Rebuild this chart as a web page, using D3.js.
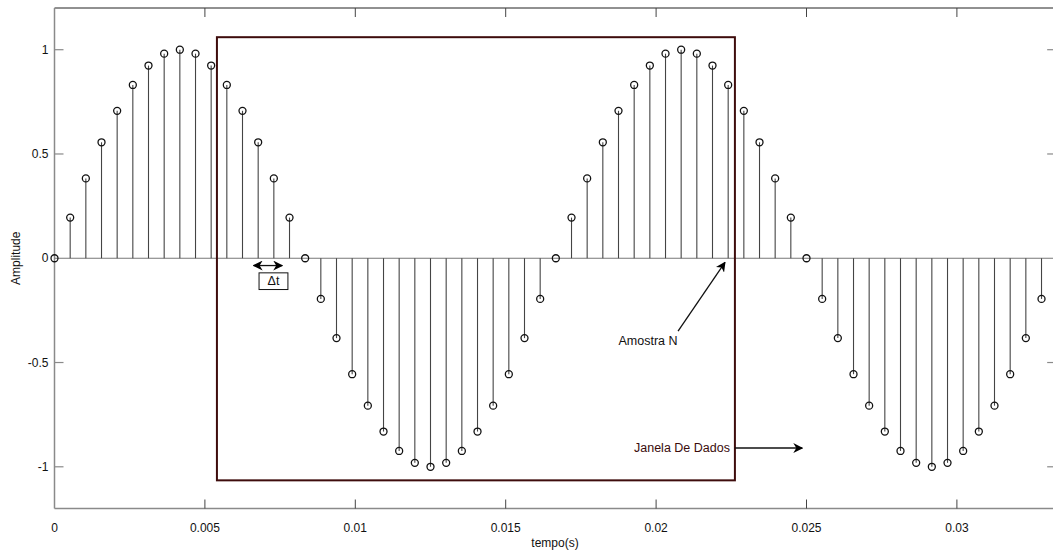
<!DOCTYPE html>
<html>
<head>
<meta charset="utf-8">
<script src="https://cdn.jsdelivr.net/npm/d3@7"></script>
<style>
  html, body { margin: 0; padding: 0; background: #fff; }
  svg text { font-family: "Liberation Sans", Arial, Helvetica, sans-serif; font-size: 12px; fill: #111; }
</style>
</head>
<body>
<svg id="chart"></svg>
<script>
// amostras (tempo em s) e amplitudes
const sampleTimes = [
  0, 0.000521, 0.001042, 0.001563, 0.002083, 0.002604, 0.003125, 0.003646,
  0.004167, 0.004688, 0.005208, 0.005729, 0.00625, 0.006771, 0.007292, 0.007813,
  0.008333, 0.008854, 0.009375, 0.009896, 0.010417, 0.010938, 0.011458, 0.011979,
  0.0125, 0.013021, 0.013542, 0.014063, 0.014583, 0.015104, 0.015625, 0.016146,
  0.016667, 0.017188, 0.017708, 0.018229, 0.01875, 0.019271, 0.019792, 0.020313,
  0.020833, 0.021354, 0.021875, 0.022396, 0.022917, 0.023438, 0.023958, 0.024479,
  0.025, 0.025521, 0.026042, 0.026563, 0.027083, 0.027604, 0.028125, 0.028646,
  0.029167, 0.029688, 0.030208, 0.030729, 0.03125, 0.031771, 0.032292, 0.032813,
  0.033333
];
const sampleValues = [
  0, 0.195, 0.383, 0.556, 0.707, 0.831, 0.924, 0.981,
  1, 0.981, 0.924, 0.831, 0.707, 0.556, 0.383, 0.195,
  0, -0.195, -0.383, -0.556, -0.707, -0.831, -0.924, -0.981,
  -1, -0.981, -0.924, -0.831, -0.707, -0.556, -0.383, -0.195,
  0, 0.195, 0.383, 0.556, 0.707, 0.831, 0.924, 0.981,
  1, 0.981, 0.924, 0.831, 0.707, 0.556, 0.383, 0.195,
  0, -0.195, -0.383, -0.556, -0.707, -0.831, -0.924, -0.981,
  -1, -0.981, -0.924, -0.831, -0.707, -0.556, -0.383, -0.195,
  0
];
const xTicks = [0, 0.005, 0.01, 0.015, 0.02, 0.025, 0.03];
const xTickLabels = ["0", "0.005", "0.01", "0.015", "0.02", "0.025", "0.03"];
const yTicks = [-1, -0.5, 0, 0.5, 1];
const yTickLabels = ["-1", "-0.5", "0", "0.5", "1"];

// janela de dados (coordenadas dos dados)
const windowX = [0.0054, 0.02262];
const windowY = [-1.065, 1.06];

const width = 1053, height = 552;
const plotLeft = 54.5, plotTop = 8, plotBottom = 508.5;
const xMax = 0.0333;
const pxPerUnit = 30080;

const svg = d3.select("#chart")
  .attr("width", width)
  .attr("height", height)
  .attr("viewBox", [0, 0, width, height]);

const x = d3.scaleLinear().domain([0, xMax]).range([plotLeft, plotLeft + xMax * pxPerUnit]);
const y = d3.scaleLinear().domain([-1.2, 1.2]).range([plotBottom, plotTop]);

const defs = svg.append("defs");
defs.append("marker")
  .attr("id", "head")
  .attr("viewBox", "0 0 10 10")
  .attr("refX", 9).attr("refY", 5)
  .attr("markerWidth", 10).attr("markerHeight", 10)
  .attr("markerUnits", "userSpaceOnUse")
  .attr("orient", "auto-start-reverse")
  .append("path")
  .attr("d", "M0,0 L10,5 L0,10 L3,5 Z")
  .attr("fill", "#000");

// --- eixos / moldura ---
const axisGrey = "#8a8a8a";
// topo
svg.append("line").attr("x1", plotLeft).attr("x2", width).attr("y1", plotTop).attr("y2", plotTop)
  .attr("stroke", "#222").attr("stroke-width", 1);
// esquerda
svg.append("line").attr("x1", plotLeft).attr("x2", plotLeft).attr("y1", plotTop).attr("y2", plotBottom)
  .attr("stroke", axisGrey).attr("stroke-width", 1.5);
// baixo
svg.append("line").attr("x1", plotLeft).attr("x2", width).attr("y1", plotBottom).attr("y2", plotBottom)
  .attr("stroke", axisGrey).attr("stroke-width", 1.5);
// direita
svg.append("line").attr("x1", x(xMax)).attr("x2", x(xMax)).attr("y1", plotTop).attr("y2", plotBottom)
  .attr("stroke", axisGrey).attr("stroke-width", 1.5);

const tickLen = 9;
// ticks x (dentro, em baixo e em cima)
xTicks.forEach((t, i) => {
  if (t > 0) {
    svg.append("line").attr("x1", x(t)).attr("x2", x(t))
      .attr("y1", plotBottom).attr("y2", plotBottom - tickLen)
      .attr("stroke", "#444").attr("stroke-width", 1);
    svg.append("line").attr("x1", x(t)).attr("x2", x(t))
      .attr("y1", plotTop).attr("y2", plotTop + tickLen)
      .attr("stroke", "#444").attr("stroke-width", 1);
  }
  svg.append("text")
    .attr("x", x(t)).attr("y", plotBottom + 23)
    .attr("text-anchor", "middle")
    .text(xTickLabels[i]);
});

// ticks y (dentro, esquerda e direita)
yTicks.forEach((v, i) => {
  if (v !== 0) {
    svg.append("line").attr("x1", plotLeft).attr("x2", plotLeft + tickLen)
      .attr("y1", y(v)).attr("y2", y(v))
      .attr("stroke", axisGrey).attr("stroke-width", 1.2);
    svg.append("line").attr("x1", x(xMax)).attr("x2", x(xMax) - tickLen)
      .attr("y1", y(v)).attr("y2", y(v))
      .attr("stroke", axisGrey).attr("stroke-width", 1.2);
  }
  svg.append("text")
    .attr("x", plotLeft - 6).attr("y", y(v) + 4)
    .attr("text-anchor", "end")
    .text(yTickLabels[i]);
});

// rótulos dos eixos
svg.append("text")
  .attr("x", 555).attr("y", 547)
  .attr("text-anchor", "middle")
  .text("tempo(s)");
svg.append("text")
  .attr("transform", `translate(20, ${y(0)}) rotate(-90)`)
  .attr("text-anchor", "middle")
  .text("Amplitude");

// --- stem ---
const data = sampleTimes.map((t, i) => ({ t, v: sampleValues[i] }));

// linha de base
svg.append("line")
  .attr("x1", plotLeft).attr("x2", width)
  .attr("y1", y(0)).attr("y2", y(0))
  .attr("stroke", "#777").attr("stroke-width", 1.2);

svg.append("g").selectAll("line")
  .data(data)
  .join("line")
  .attr("x1", d => x(d.t)).attr("x2", d => x(d.t))
  .attr("y1", y(0)).attr("y2", d => y(d.v))
  .attr("stroke", "#444").attr("stroke-width", 1.1);

svg.append("g").selectAll("circle")
  .data(data)
  .join("circle")
  .attr("cx", d => x(d.t))
  .attr("cy", d => y(d.v))
  .attr("r", 3.5)
  .attr("fill", "none")
  .attr("stroke", "#111")
  .attr("stroke-width", 1.3);

// --- janela de dados ---
const winColor = "#3e0c0c";
svg.append("rect")
  .attr("x", x(windowX[0]))
  .attr("y", y(windowY[1]))
  .attr("width", x(windowX[1]) - x(windowX[0]))
  .attr("height", y(windowY[0]) - y(windowY[1]))
  .attr("fill", "none")
  .attr("stroke", winColor)
  .attr("stroke-width", 2);

svg.append("text")
  .attr("x", x(windowX[1]) - 5).attr("y", y(-0.91) + 4)
  .attr("text-anchor", "end")
  .style("font-size", "12.5px")
  .style("fill", "#3a0c0c")
  .text("Janela De Dados");

svg.append("line")
  .attr("x1", x(windowX[1])).attr("y1", y(-0.91))
  .attr("x2", x(0.02486)).attr("y2", y(-0.91))
  .attr("stroke", "#111").attr("stroke-width", 1.3)
  .attr("marker-end", "url(#head)");

// --- Amostra N ---
svg.append("line")
  .attr("x1", x(0.02073)).attr("y1", y(-0.35))
  .attr("x2", x(0.02229)).attr("y2", y(-0.02))
  .attr("stroke", "#111").attr("stroke-width", 1.3)
  .attr("marker-end", "url(#head)");
svg.append("text")
  .attr("x", x(0.01973)).attr("y", y(-0.395) + 4)
  .attr("text-anchor", "middle")
  .style("font-size", "12.5px")
  .text("Amostra N");

// --- Δt ---
svg.append("line")
  .attr("x1", x(0.00662)).attr("y1", y(-0.035))
  .attr("x2", x(0.00757)).attr("y2", y(-0.035))
  .attr("stroke", "#111").attr("stroke-width", 1.3)
  .attr("marker-start", "url(#head)")
  .attr("marker-end", "url(#head)");
svg.append("rect")
  .attr("x", x(0.00680)).attr("y", y(-0.07))
  .attr("width", x(0.00776) - x(0.00680))
  .attr("height", y(-0.15) - y(-0.07))
  .attr("fill", "#fff")
  .attr("stroke", "#111").attr("stroke-width", 1);
svg.append("text")
  .attr("x", x(0.00728)).attr("y", y(-0.11) + 4)
  .attr("text-anchor", "middle")
  .style("font-size", "12.5px")
  .text("Δt");
</script>
</body>
</html>
